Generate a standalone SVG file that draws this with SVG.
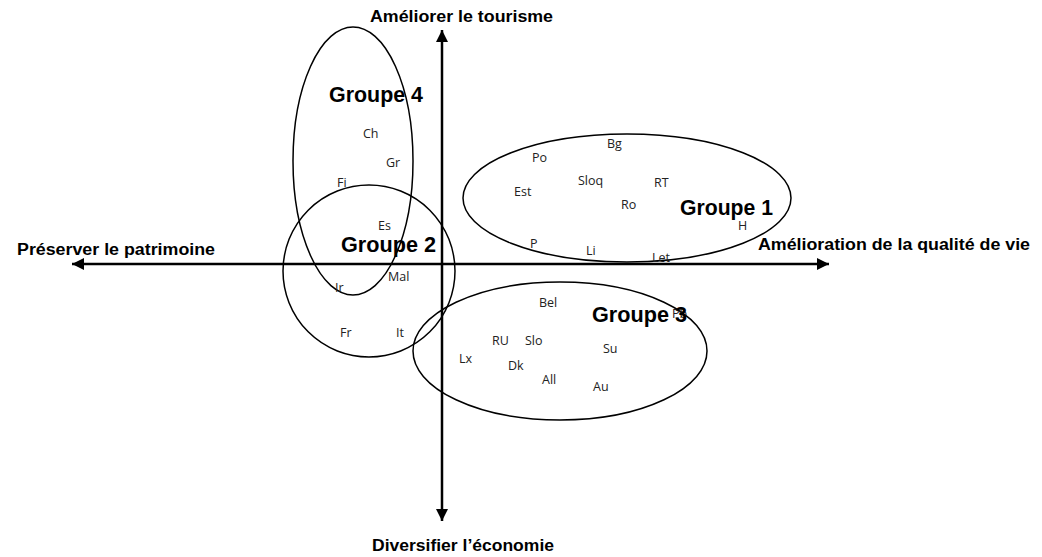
<svg xmlns="http://www.w3.org/2000/svg" width="1042" height="557" viewBox="0 0 1042 557">
<style>
.grp{fill:none;stroke:#000;stroke-width:1.5}
.ax{stroke:#000;stroke-width:2.5;fill:none}
.lbl{font-family:"Open Sans","Liberation Sans",sans-serif;font-size:12.5px;fill:#222}
.gt{font-family:"Liberation Sans",Arial,sans-serif;font-weight:bold;font-size:21.5px;fill:#000}
.at{font-family:"Liberation Sans",Arial,sans-serif;font-weight:bold;font-size:16px;fill:#000}
</style>
<defs>
<marker id="ah" viewBox="0 0 10 10" refX="10" refY="5" markerWidth="14" markerHeight="12" markerUnits="userSpaceOnUse" orient="auto">
<path d="M0,0 L10,5 L0,10 Z" fill="#000"/>
</marker>
</defs>
<rect width="1042" height="557" fill="#fff"/>
<g id="connectors">
<line class="ax" x1="442" y1="264" x2="72" y2="264" marker-end="url(#ah)"/>
<line class="ax" x1="442" y1="264" x2="829" y2="264" marker-end="url(#ah)"/>
<line class="ax" x1="442" y1="264" x2="442" y2="30" marker-end="url(#ah)"/>
<line class="ax" x1="442" y1="264" x2="442" y2="521" marker-end="url(#ah)"/>
</g>
<g id="axis-labels">
<text class="at" x="370" y="22" textLength="183" lengthAdjust="spacingAndGlyphs">Améliorer le tourisme</text>
<text class="at" x="17" y="255" textLength="198" lengthAdjust="spacingAndGlyphs">Préserver le patrimoine</text>
<text class="at" x="758" y="250" textLength="272" lengthAdjust="spacingAndGlyphs">Amélioration de la qualité de vie</text>
<text class="at" x="372" y="551" textLength="182" lengthAdjust="spacingAndGlyphs">Diversifier l’économie</text>
</g>
<g id="groupe4">
<ellipse class="grp" cx="353" cy="161" rx="60" ry="134"/>
<text class="gt" x="329" y="102" textLength="94" lengthAdjust="spacingAndGlyphs">Groupe 4</text>
<text class="lbl" x="363" y="138">Ch</text>
<text class="lbl" x="386" y="167">Gr</text>
<text class="lbl" x="337" y="187">Fi</text>
</g>
<g id="groupe2">
<ellipse class="grp" cx="369" cy="271" rx="86" ry="86"/>
<text class="lbl" x="378" y="230">Es</text>
<text class="gt" x="341" y="252" textLength="95" lengthAdjust="spacingAndGlyphs">Groupe 2</text>
<text class="lbl" x="388" y="281">Mal</text>
<text class="lbl" x="335" y="292">Ir</text>
<text class="lbl" x="340" y="337">Fr</text>
<text class="lbl" x="396" y="337">It</text>
</g>
<g id="groupe1">
<ellipse class="grp" cx="627" cy="198" rx="164" ry="64"/>
<text class="lbl" x="607" y="148">Bg</text>
<text class="lbl" x="532" y="162">Po</text>
<text class="lbl" x="578" y="185">Sloq</text>
<text class="lbl" x="654" y="187">RT</text>
<text class="lbl" x="514" y="196">Est</text>
<text class="lbl" x="621" y="209">Ro</text>
<text class="gt" x="680" y="215" textLength="93" lengthAdjust="spacingAndGlyphs">Groupe 1</text>
<text class="lbl" x="738" y="230">H</text>
<text class="lbl" x="530" y="248">P</text>
<text class="lbl" x="586" y="255">Li</text>
<text class="lbl" x="652" y="262">Let</text>
</g>
<g id="groupe3">
<ellipse class="grp" cx="560" cy="351" rx="147" ry="69"/>
<text class="lbl" x="539" y="307">Bel</text>
<text class="lbl" x="672" y="318">Pb</text>
<text class="gt" x="592" y="322" textLength="95" lengthAdjust="spacingAndGlyphs">Groupe 3</text>
<text class="lbl" x="492" y="345">RU</text>
<text class="lbl" x="525" y="345">Slo</text>
<text class="lbl" x="603" y="353">Su</text>
<text class="lbl" x="459" y="363">Lx</text>
<text class="lbl" x="508" y="370">Dk</text>
<text class="lbl" x="542" y="384">All</text>
<text class="lbl" x="593" y="391">Au</text>
</g>
</svg>
